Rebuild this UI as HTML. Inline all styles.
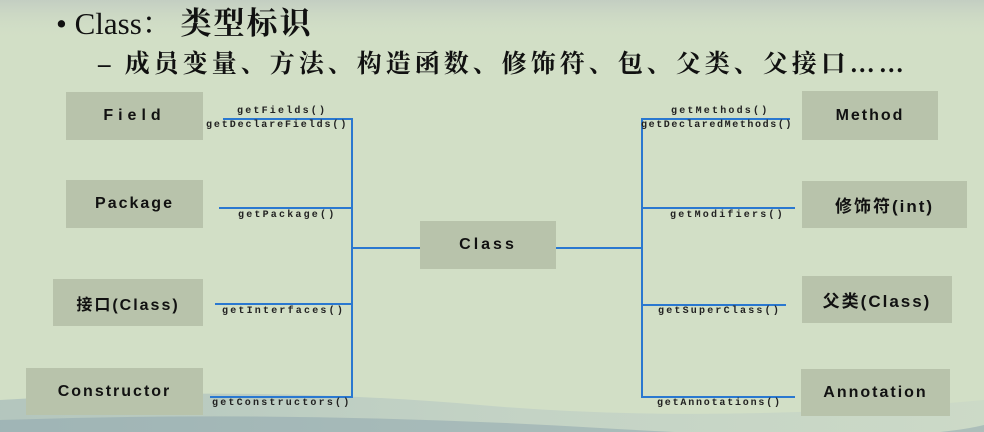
<!DOCTYPE html>
<html><head><meta charset="utf-8"><style>
body{margin:0;width:984px;height:432px;overflow:hidden;position:relative;background:#d2dfc6;font-family:"Liberation Sans","Noto Sans CJK SC",sans-serif;}
.bg{position:absolute;left:0;top:0}
.box{position:absolute;background:#b8c3ab;color:#111;font-size:16px;letter-spacing:2px;display:flex;align-items:center;justify-content:center;font-weight:bold}
.lbl{position:absolute;font-family:"Liberation Mono",monospace;font-size:10px;color:#222;white-space:nowrap;letter-spacing:2.2px;font-weight:bold}
.t1{position:absolute;left:56px;top:-2px;font-family:"Liberation Serif","Noto Serif CJK SC",serif;font-size:31px;color:#111}
.t1 span{font-weight:bold;letter-spacing:2px}
.t2{position:absolute;left:98px;top:44px;font-family:"Liberation Serif","Noto Serif CJK SC",serif;font-size:25px;font-weight:bold;color:#111;letter-spacing:4px;white-space:nowrap}
</style></head><body>
<svg class="bg" width="984" height="432">
<defs><linearGradient id="g" x1="0" y1="0" x2="1" y2="0"><stop offset="0" stop-color="#9fb5b8"/><stop offset="0.5" stop-color="#b9cac4"/><stop offset="1" stop-color="#c8d6c8"/></linearGradient>
<linearGradient id="t" x1="0" y1="0" x2="0" y2="1"><stop offset="0" stop-color="#c3cec2"/><stop offset="1" stop-color="#d2dfc6" stop-opacity="0"/></linearGradient></defs>
<rect x="0" y="0" width="984" height="40" fill="url(#t)"/>
<path d="M0 400 Q250 385 480 405 T984 400 L984 432 L0 432Z" fill="url(#g)" opacity="0.6"/>
<path d="M0 420 Q300 410 600 428 T984 425 L984 432 L0 432Z" fill="#8ba3ad" opacity="0.5"/>
<g stroke="#2a78d0" stroke-width="2" fill="none">
<path d="M223 119H352V397H210M219 208H352M215 304H352M352 248H420"/>
<path d="M790 119H642V397H795M642 208H795M642 305H786M556 248H642"/>
</g>
</svg>
<div class="t1">• Class： <span>类型标识</span></div>
<div class="t2">– 成员变量、方法、构造函数、修饰符、包、父类、父接口……</div>
<div class="box" style="left:66px;top:92px;width:137px;height:48px;letter-spacing:5px">Field</div>
<div class="box" style="left:66px;top:180px;width:137px;height:48px">Package</div>
<div class="box" style="left:53px;top:279px;width:150px;height:47px">接口(Class)</div>
<div class="box" style="left:26px;top:368px;width:177px;height:47px">Constructor</div>
<div class="box" style="left:420px;top:221px;width:136px;height:48px;letter-spacing:3px">Class</div>
<div class="box" style="left:802px;top:91px;width:136px;height:49px">Method</div>
<div class="box" style="left:802px;top:181px;width:165px;height:47px;font-size:17px">修饰符(int)</div>
<div class="box" style="left:802px;top:276px;width:150px;height:47px;font-size:17px">父类(Class)</div>
<div class="box" style="left:801px;top:369px;width:149px;height:47px">Annotation</div>
<div class="lbl" style="left:237px;top:106px">getFields()</div>
<div class="lbl" style="left:206px;top:120px;letter-spacing:1.9px">getDeclareFields()</div>
<div class="lbl" style="left:238px;top:210px">getPackage()</div>
<div class="lbl" style="left:222px;top:306px">getInterfaces()</div>
<div class="lbl" style="left:212px;top:398px">getConstructors()</div>
<div class="lbl" style="left:671px;top:106px">getMethods()</div>
<div class="lbl" style="left:641px;top:120px;letter-spacing:1.6px">getDeclaredMethods()</div>
<div class="lbl" style="left:670px;top:210px">getModifiers()</div>
<div class="lbl" style="left:658px;top:306px">getSuperClass()</div>
<div class="lbl" style="left:657px;top:398px;letter-spacing:1.8px">getAnnotations()</div>
</body></html>
